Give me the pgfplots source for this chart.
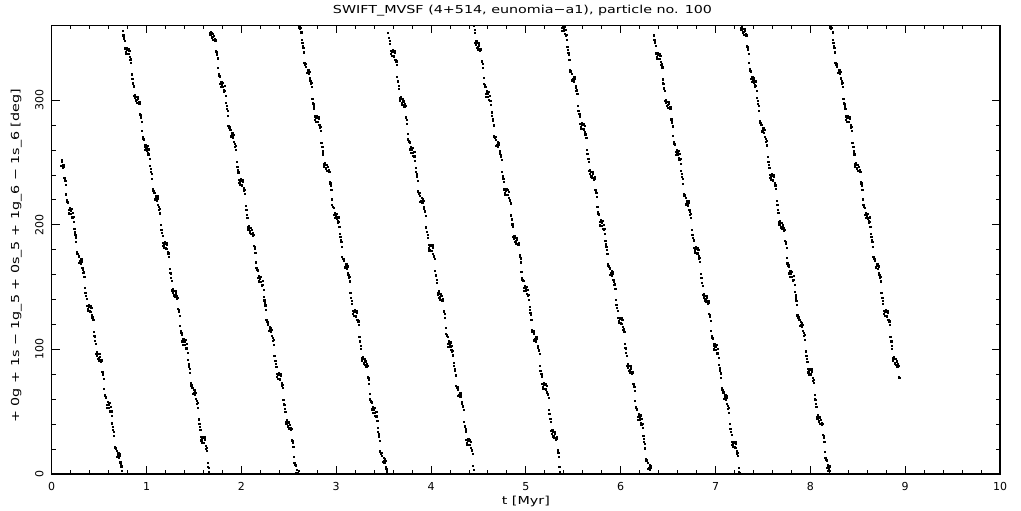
\documentclass[border=0pt]{standalone}
\usepackage{fontspec}
\setmainfont{DejaVu Sans}
\newfontfamily\labfont[FakeStretch=1.3]{DejaVu Sans}
\usepackage{pgfplots}
\pgfplotsset{compat=1.18}
\pgfplotsset{dots/.style={only marks, mark=square*, mark size=0.6pt, black, mark options={line width=0pt}}}

\begin{document}
\begin{tikzpicture}
\useasboundingbox (-51.7pt,-37pt) rectangle (969.3pt,474pt);
\begin{axis}[
  at={(0pt,0pt)}, anchor=south west,
  scale only axis, width=948.3pt, height=448.5pt,
  xmin=0, xmax=10, ymin=0, ymax=360,
  xtick={0,1,2,3,4,5,6,7,8,9,10}, ytick={0,100,200,300},
  minor x tick num=4, minor y tick num=4,
  tick align=inside,
  major tick length=8pt, minor tick length=4pt,
  tick style={black, line width=0.9pt},
  axis line style={line width=1.1pt},
  tick label style={font=\fontsize{11}{13}\selectfont},
  /pgf/number format/assume math mode=true,
  xticklabel shift=5pt,
  yticklabel style={rotate=90, anchor=south},
  yticklabel shift=4.7pt,
  title={SWIFT\_MVSF (4+514, eunomia−a1), particle no. 100},
  title style={at={(axis description cs:0.4965,1.0189)}, anchor=center, font=\fontsize{11}{13}\labfont},
  xlabel={t [Myr]},
  xlabel style={at={(axis description cs:0.5,-0.0613)}, anchor=center, font=\fontsize{11}{13}\labfont},
  ylabel={+ 0g + 1s − 1g\_5 + 0s\_5 + 1g\_6 − 1s\_6 [deg]},
  ylabel style={at={(axis description cs:-0.0373,0.4865)}, anchor=center, font=\fontsize{11}{13}\labfont},
]
% ---- outputs on the 0.01 Myr grid ----
% cycle 0
\addplot[dots] coordinates {
(0.10,247.1) (0.11,250.2) (0.12,246.0) (0.13,246.6) (0.14,237.0) (0.15,232.1) (0.16,219.7) (0.17,218.1) (0.18,211.7) (0.19,213.5)
(0.20,211.1) (0.21,212.7) (0.22,205.5) (0.23,206.1) (0.24,196.5) (0.25,191.6) (0.26,186.2) (0.27,176.6) (0.28,176.7) (0.29,169.5)
(0.30,170.6) (0.31,168.7) (0.32,170.5) (0.33,163.6) (0.34,162.0) (0.35,149.1) (0.36,145.2) (0.37,140.6) (0.38,132.2) (0.39,134.0)
(0.40,134.1) (0.41,130.2) (0.42,133.0) (0.43,125.6) (0.44,123.5) (0.45,110.6) (0.46,106.7) (0.47,96.6) (0.48,97.7) (0.49,92.5)
(0.50,91.1) (0.51,94.2) (0.52,90.0) (0.53,90.6) (0.54,81.0) (0.55,76.1) (0.56,63.7) (0.57,62.1) (0.58,55.7) (0.59,57.5)
(0.60,55.1) (0.61,56.7) (0.62,49.5) (0.63,50.1) (0.64,40.5) (0.65,35.6) (0.66,30.2) (0.67,20.6) (0.68,20.7) (0.69,13.5)
(0.70,14.6) (0.71,12.7) (0.72,14.5) (0.73,7.6) (0.74,6.0)
};
% cycle 1
\addplot[dots] coordinates {
(0.75,355.8) (0.76,351.9) (0.77,347.3) (0.78,338.9) (0.79,340.7)
(0.80,340.8) (0.81,336.9) (0.82,339.7) (0.83,332.3) (0.84,330.2) (0.85,317.3) (0.86,313.4) (0.87,303.3) (0.88,304.4) (0.89,299.2)
(0.90,297.8) (0.91,300.9) (0.92,296.7) (0.93,297.3) (0.94,287.7) (0.95,282.8) (0.96,270.4) (0.97,268.8) (0.98,262.4) (0.99,264.2)
(1.00,261.8) (1.01,263.4) (1.02,256.2) (1.03,256.8) (1.04,247.2) (1.05,242.3) (1.06,236.9) (1.07,227.3) (1.08,227.4) (1.09,220.2)
(1.10,221.3) (1.11,219.4) (1.12,221.2) (1.13,214.3) (1.14,212.7) (1.15,199.8) (1.16,195.9) (1.17,191.3) (1.18,182.9) (1.19,184.7)
(1.20,184.8) (1.21,180.9) (1.22,183.7) (1.23,176.3) (1.24,174.2) (1.25,161.3) (1.26,157.4) (1.27,147.3) (1.28,148.4) (1.29,143.2)
(1.30,141.8) (1.31,144.9) (1.32,140.7) (1.33,141.3) (1.34,131.7) (1.35,126.8) (1.36,114.4) (1.37,112.8) (1.38,106.4) (1.39,108.2)
(1.40,105.8) (1.41,107.4) (1.42,100.2) (1.43,100.8) (1.44,91.2) (1.45,86.3) (1.46,80.9) (1.47,71.3) (1.48,71.4) (1.49,64.2)
(1.50,65.3) (1.51,63.4) (1.52,65.2) (1.53,58.3) (1.54,56.7) (1.55,43.8) (1.56,39.9) (1.57,35.3) (1.58,26.9) (1.59,28.7)
(1.60,28.8) (1.61,24.9) (1.62,27.7) (1.63,20.3) (1.64,18.2) (1.65,5.3) (1.66,1.4)
};
% cycle 2
\addplot[dots] coordinates {
(1.67,354.0) (1.68,355.1) (1.69,349.9)
(1.70,348.5) (1.71,351.6) (1.72,347.4) (1.73,348.0) (1.74,338.4) (1.75,333.5) (1.76,321.1) (1.77,319.5) (1.78,313.1) (1.79,314.9)
(1.80,312.5) (1.81,314.1) (1.82,306.9) (1.83,307.5) (1.84,297.9) (1.85,293.0) (1.86,287.6) (1.87,278.0) (1.88,278.1) (1.89,270.9)
(1.90,272.0) (1.91,270.1) (1.92,271.9) (1.93,265.0) (1.94,263.4) (1.95,250.5) (1.96,246.6) (1.97,242.0) (1.98,233.6) (1.99,235.4)
(2.00,235.5) (2.01,231.6) (2.02,234.4) (2.03,227.0) (2.04,224.9) (2.05,212.0) (2.06,208.1) (2.07,198.0) (2.08,199.1) (2.09,193.9)
(2.10,192.5) (2.11,195.6) (2.12,191.4) (2.13,192.0) (2.14,182.4) (2.15,177.5) (2.16,165.1) (2.17,163.5) (2.18,157.1) (2.19,158.9)
(2.20,156.5) (2.21,158.1) (2.22,150.9) (2.23,151.5) (2.24,141.9) (2.25,137.0) (2.26,131.6) (2.27,122.0) (2.28,122.1) (2.29,114.9)
(2.30,116.0) (2.31,114.1) (2.32,115.9) (2.33,109.0) (2.34,107.4) (2.35,94.5) (2.36,90.6) (2.37,86.0) (2.38,77.6) (2.39,79.4)
(2.40,79.5) (2.41,75.6) (2.42,78.4) (2.43,71.0) (2.44,68.9) (2.45,56.0) (2.46,52.1) (2.47,42.0) (2.48,43.1) (2.49,37.9)
(2.50,36.5) (2.51,39.6) (2.52,35.4) (2.53,36.0) (2.54,26.4) (2.55,21.5) (2.56,9.1) (2.57,7.5) (2.58,1.1) (2.59,2.9)
(2.60,0.5) (2.61,2.1)
};
% cycle 3
\addplot[dots] coordinates {
(2.62,357.6) (2.63,358.2) (2.64,348.6) (2.65,343.7) (2.66,338.3) (2.67,328.7) (2.68,328.8) (2.69,321.6)
(2.70,322.7) (2.71,320.8) (2.72,322.6) (2.73,315.7) (2.74,314.1) (2.75,301.2) (2.76,297.3) (2.77,292.7) (2.78,284.3) (2.79,286.1)
(2.80,286.2) (2.81,282.3) (2.82,285.1) (2.83,277.7) (2.84,275.6) (2.85,262.7) (2.86,258.8) (2.87,248.7) (2.88,249.8) (2.89,244.6)
(2.90,243.2) (2.91,246.3) (2.92,242.1) (2.93,242.7) (2.94,233.1) (2.95,228.2) (2.96,215.8) (2.97,214.2) (2.98,207.8) (2.99,209.6)
(3.00,207.2) (3.01,208.8) (3.02,201.6) (3.03,202.2) (3.04,192.6) (3.05,187.7) (3.06,182.3) (3.07,172.7) (3.08,172.8) (3.09,165.6)
(3.10,166.7) (3.11,164.8) (3.12,166.6) (3.13,159.7) (3.14,158.1) (3.15,145.2) (3.16,141.3) (3.17,136.7) (3.18,128.3) (3.19,130.1)
(3.20,130.2) (3.21,126.3) (3.22,129.1) (3.23,121.7) (3.24,119.6) (3.25,106.7) (3.26,102.8) (3.27,92.7) (3.28,93.8) (3.29,88.6)
(3.30,87.2) (3.31,90.3) (3.32,86.1) (3.33,86.7) (3.34,77.1) (3.35,72.2) (3.36,59.8) (3.37,58.2) (3.38,51.8) (3.39,53.6)
(3.40,51.2) (3.41,52.8) (3.42,45.6) (3.43,46.2) (3.44,36.6) (3.45,31.7) (3.46,26.3) (3.47,16.7) (3.48,16.8) (3.49,9.6)
(3.50,10.7) (3.51,8.8) (3.52,10.6) (3.53,3.7) (3.54,2.1)
};
% cycle 4
\addplot[dots] coordinates {
(3.55,353.9) (3.56,350.0) (3.57,345.4) (3.58,337.0) (3.59,338.8)
(3.60,338.9) (3.61,335.0) (3.62,337.8) (3.63,330.4) (3.64,328.3) (3.65,315.4) (3.66,311.5) (3.67,301.4) (3.68,302.5) (3.69,297.3)
(3.70,295.9) (3.71,299.0) (3.72,294.8) (3.73,295.4) (3.74,285.8) (3.75,280.9) (3.76,268.5) (3.77,266.9) (3.78,260.5) (3.79,262.3)
(3.80,259.9) (3.81,261.5) (3.82,254.3) (3.83,254.9) (3.84,245.3) (3.85,240.4) (3.86,235.0) (3.87,225.4) (3.88,225.5) (3.89,218.3)
(3.90,219.4) (3.91,217.5) (3.92,219.3) (3.93,212.4) (3.94,210.8) (3.95,197.9) (3.96,194.0) (3.97,189.4) (3.98,181.0) (3.99,182.8)
(4.00,182.9) (4.01,179.0) (4.02,181.8) (4.03,174.4) (4.04,172.3) (4.05,159.4) (4.06,155.5) (4.07,145.4) (4.08,146.5) (4.09,141.3)
(4.10,139.9) (4.11,143.0) (4.12,138.8) (4.13,139.4) (4.14,129.8) (4.15,124.9) (4.16,112.5) (4.17,110.9) (4.18,104.5) (4.19,106.3)
(4.20,103.9) (4.21,105.5) (4.22,98.3) (4.23,98.9) (4.24,89.3) (4.25,84.4) (4.26,79.0) (4.27,69.4) (4.28,69.5) (4.29,62.3)
(4.30,63.4) (4.31,61.5) (4.32,63.3) (4.33,56.4) (4.34,54.8) (4.35,41.9) (4.36,38.0) (4.37,33.4) (4.38,25.0) (4.39,26.8)
(4.40,26.9) (4.41,23.0) (4.42,25.8) (4.43,18.4) (4.44,16.3) (4.45,3.4)
};
% cycle 5
\addplot[dots] coordinates {
(4.46,356.3) (4.47,346.2) (4.48,347.3) (4.49,342.1)
(4.50,340.7) (4.51,343.8) (4.52,339.6) (4.53,340.2) (4.54,330.6) (4.55,325.7) (4.56,313.3) (4.57,311.7) (4.58,305.3) (4.59,307.1)
(4.60,304.7) (4.61,306.3) (4.62,299.1) (4.63,299.7) (4.64,290.1) (4.65,285.2) (4.66,279.8) (4.67,270.2) (4.68,270.3) (4.69,263.1)
(4.70,264.2) (4.71,262.3) (4.72,264.1) (4.73,257.2) (4.74,255.6) (4.75,242.7) (4.76,238.8) (4.77,234.2) (4.78,225.8) (4.79,227.6)
(4.80,227.7) (4.81,223.8) (4.82,226.6) (4.83,219.2) (4.84,217.1) (4.85,204.2) (4.86,200.3) (4.87,190.2) (4.88,191.3) (4.89,186.1)
(4.90,184.7) (4.91,187.8) (4.92,183.6) (4.93,184.2) (4.94,174.6) (4.95,169.7) (4.96,157.3) (4.97,155.7) (4.98,149.3) (4.99,151.1)
(5.00,148.7) (5.01,150.3) (5.02,143.1) (5.03,143.7) (5.04,134.1) (5.05,129.2) (5.06,123.8) (5.07,114.2) (5.08,114.3) (5.09,107.1)
(5.10,108.2) (5.11,106.3) (5.12,108.1) (5.13,101.2) (5.14,99.6) (5.15,86.7) (5.16,82.8) (5.17,78.2) (5.18,69.8) (5.19,71.6)
(5.20,71.7) (5.21,67.8) (5.22,70.6) (5.23,63.2) (5.24,61.1) (5.25,48.2) (5.26,44.3) (5.27,34.2) (5.28,35.3) (5.29,30.1)
(5.30,28.7) (5.31,31.8) (5.32,27.6) (5.33,28.2) (5.34,18.6) (5.35,13.7) (5.36,1.3)
};
% cycle 6
\addplot[dots] coordinates {
(5.38,358.0) (5.39,359.8)
(5.40,357.4) (5.41,359.0) (5.42,351.8) (5.43,352.4) (5.44,342.8) (5.45,337.9) (5.46,332.5) (5.47,322.9) (5.48,323.0) (5.49,315.8)
(5.50,316.9) (5.51,315.0) (5.52,316.8) (5.53,309.9) (5.54,308.3) (5.55,295.4) (5.56,291.5) (5.57,286.9) (5.58,278.5) (5.59,280.3)
(5.60,280.4) (5.61,276.5) (5.62,279.3) (5.63,271.9) (5.64,269.8) (5.65,256.9) (5.66,253.0) (5.67,242.9) (5.68,244.0) (5.69,238.8)
(5.70,237.4) (5.71,240.5) (5.72,236.3) (5.73,236.9) (5.74,227.3) (5.75,222.4) (5.76,210.0) (5.77,208.4) (5.78,202.0) (5.79,203.8)
(5.80,201.4) (5.81,203.0) (5.82,195.8) (5.83,196.4) (5.84,186.8) (5.85,181.9) (5.86,176.5) (5.87,166.9) (5.88,167.0) (5.89,159.8)
(5.90,160.9) (5.91,159.0) (5.92,160.8) (5.93,153.9) (5.94,152.3) (5.95,139.4) (5.96,135.5) (5.97,130.9) (5.98,122.5) (5.99,124.3)
(6.00,124.4) (6.01,120.5) (6.02,123.3) (6.03,115.9) (6.04,113.8) (6.05,100.9) (6.06,97.0) (6.07,86.9) (6.08,88.0) (6.09,82.8)
(6.10,81.4) (6.11,84.5) (6.12,80.3) (6.13,80.9) (6.14,71.3) (6.15,66.4) (6.16,54.0) (6.17,52.4) (6.18,46.0) (6.19,47.8)
(6.20,45.4) (6.21,47.0) (6.22,39.8) (6.23,40.4) (6.24,30.8) (6.25,25.9) (6.26,20.5) (6.27,10.9) (6.28,11.0) (6.29,3.8)
(6.30,4.9) (6.31,3.0) (6.32,4.8)
};
% cycle 7
\addplot[dots] coordinates {
(6.35,351.9) (6.36,348.0) (6.37,343.4) (6.38,335.0) (6.39,336.8)
(6.40,336.9) (6.41,333.0) (6.42,335.8) (6.43,328.4) (6.44,326.3) (6.45,313.4) (6.46,309.5) (6.47,299.4) (6.48,300.5) (6.49,295.3)
(6.50,293.9) (6.51,297.0) (6.52,292.8) (6.53,293.4) (6.54,283.8) (6.55,278.9) (6.56,266.5) (6.57,264.9) (6.58,258.5) (6.59,260.3)
(6.60,257.9) (6.61,259.5) (6.62,252.3) (6.63,252.9) (6.64,243.3) (6.65,238.4) (6.66,233.0) (6.67,223.4) (6.68,223.5) (6.69,216.3)
(6.70,217.4) (6.71,215.5) (6.72,217.3) (6.73,210.4) (6.74,208.8) (6.75,195.9) (6.76,192.0) (6.77,187.4) (6.78,179.0) (6.79,180.8)
(6.80,180.9) (6.81,177.0) (6.82,179.8) (6.83,172.4) (6.84,170.3) (6.85,157.4) (6.86,153.5) (6.87,143.4) (6.88,144.5) (6.89,139.3)
(6.90,137.9) (6.91,141.0) (6.92,136.8) (6.93,137.4) (6.94,127.8) (6.95,122.9) (6.96,110.5) (6.97,108.9) (6.98,102.5) (6.99,104.3)
(7.00,101.9) (7.01,103.5) (7.02,96.3) (7.03,96.9) (7.04,87.3) (7.05,82.4) (7.06,77.0) (7.07,67.4) (7.08,67.5) (7.09,60.3)
(7.10,61.4) (7.11,59.5) (7.12,61.3) (7.13,54.4) (7.14,52.8) (7.15,39.9) (7.16,36.0) (7.17,31.4) (7.18,23.0) (7.19,24.8)
(7.20,24.9) (7.21,21.0) (7.22,23.8) (7.23,16.4) (7.24,14.3) (7.25,1.4)
};
% cycle 8
\addplot[dots] coordinates {
(7.27,357.9) (7.28,359.0) (7.29,353.8)
(7.30,352.4) (7.31,355.5) (7.32,351.3) (7.33,351.9) (7.34,342.3) (7.35,337.4) (7.36,325.0) (7.37,323.4) (7.38,317.0) (7.39,318.8)
(7.40,316.4) (7.41,318.0) (7.42,310.8) (7.43,311.4) (7.44,301.8) (7.45,296.9) (7.46,291.5) (7.47,281.9) (7.48,282.0) (7.49,274.8)
(7.50,275.9) (7.51,274.0) (7.52,275.8) (7.53,268.9) (7.54,267.3) (7.55,254.4) (7.56,250.5) (7.57,245.9) (7.58,237.5) (7.59,239.3)
(7.60,239.4) (7.61,235.5) (7.62,238.3) (7.63,230.9) (7.64,228.8) (7.65,215.9) (7.66,212.0) (7.67,201.9) (7.68,203.0) (7.69,197.8)
(7.70,196.4) (7.71,199.5) (7.72,195.3) (7.73,195.9) (7.74,186.3) (7.75,181.4) (7.76,169.0) (7.77,167.4) (7.78,161.0) (7.79,162.8)
(7.80,160.4) (7.81,162.0) (7.82,154.8) (7.83,155.4) (7.84,145.8) (7.85,140.9) (7.86,135.5) (7.87,125.9) (7.88,126.0) (7.89,118.8)
(7.90,119.9) (7.91,118.0) (7.92,119.8) (7.93,112.9) (7.94,111.3) (7.95,98.4) (7.96,94.5) (7.97,89.9) (7.98,81.5) (7.99,83.3)
(8.00,83.4) (8.01,79.5) (8.02,82.3) (8.03,74.9) (8.04,72.8) (8.05,59.9) (8.06,56.0) (8.07,45.9) (8.08,47.0) (8.09,41.8)
(8.10,40.4) (8.11,43.5) (8.12,39.3) (8.13,39.9) (8.14,30.3) (8.15,25.4) (8.16,13.0) (8.17,11.4) (8.18,5.0) (8.19,6.8)
(8.20,4.4) (8.21,6.0)
};
% cycle 9
\addplot[dots] coordinates {
(8.22,357.6) (8.23,358.2) (8.24,348.6) (8.25,343.7) (8.26,338.3) (8.27,328.7) (8.28,328.8) (8.29,321.6)
(8.30,322.7) (8.31,320.8) (8.32,322.6) (8.33,315.7) (8.34,314.1) (8.35,301.2) (8.36,297.3) (8.37,292.7) (8.38,284.3) (8.39,286.1)
(8.40,286.2) (8.41,282.3) (8.42,285.1) (8.43,277.7) (8.44,275.6) (8.45,262.7) (8.46,258.8) (8.47,248.7) (8.48,249.8) (8.49,244.6)
(8.50,243.2) (8.51,246.3) (8.52,242.1) (8.53,242.7) (8.54,233.1) (8.55,228.2) (8.56,215.8) (8.57,214.2) (8.58,207.8) (8.59,209.6)
(8.60,207.2) (8.61,208.8) (8.62,201.6) (8.63,202.2) (8.64,192.6) (8.65,187.7) (8.66,182.3) (8.67,172.7) (8.68,172.8) (8.69,165.6)
(8.70,166.7) (8.71,164.8) (8.72,166.6) (8.73,159.7) (8.74,158.1) (8.75,145.2) (8.76,141.3) (8.77,136.7) (8.78,128.3) (8.79,130.1)
(8.80,130.2) (8.81,126.3) (8.82,129.1) (8.83,121.7) (8.84,119.6) (8.85,106.7) (8.86,102.8) (8.87,92.7) (8.88,93.8) (8.89,88.6)
(8.90,87.2) (8.91,90.3) (8.92,86.1) (8.93,86.7) (8.94,77.1)
};
% ---- outputs in between ----
% cycle 0
\addplot[dots] coordinates {
(0.105,252.0) (0.115,247.1) (0.125,247.8) (0.135,237.8) (0.145,235.4) (0.155,224.3) (0.165,218.4) (0.175,217.3) (0.185,209.1) (0.195,211.7)
(0.205,209.0) (0.215,206.6) (0.225,209.8) (0.235,202.3) (0.245,193.9) (0.255,189.8) (0.265,177.9) (0.275,176.3) (0.285,174.6) (0.295,169.7)
(0.305,172.5) (0.315,172.1) (0.325,165.3) (0.335,161.3) (0.345,158.4) (0.355,145.3) (0.365,142.9) (0.375,134.8) (0.385,130.6) (0.395,135.2)
(0.405,130.5) (0.415,134.6) (0.425,127.8) (0.435,126.3) (0.445,113.9) (0.455,110.3) (0.465,104.4) (0.475,94.8) (0.485,96.1) (0.495,93.2)
(0.505,96.0) (0.515,91.1) (0.525,91.8) (0.535,81.8) (0.545,79.4) (0.555,68.3) (0.565,62.4) (0.575,61.3) (0.585,53.1) (0.595,55.7)
(0.605,53.0) (0.615,50.6) (0.625,53.8) (0.635,46.3) (0.645,37.9) (0.655,33.8) (0.665,21.9) (0.675,20.3) (0.685,18.6) (0.695,13.7)
(0.705,16.5) (0.715,16.1) (0.725,9.3) (0.735,5.3) (0.745,2.4)
};
% cycle 1
\addplot[dots] coordinates {
(0.755,352.0) (0.765,349.6) (0.775,341.5) (0.785,337.3) (0.795,341.9)
(0.805,337.2) (0.815,341.3) (0.825,334.5) (0.835,333.0) (0.845,320.6) (0.855,317.0) (0.865,311.1) (0.875,301.5) (0.885,302.8) (0.895,299.9)
(0.905,302.7) (0.915,297.8) (0.925,298.5) (0.935,288.5) (0.945,286.1) (0.955,275.0) (0.965,269.1) (0.975,268.0) (0.985,259.8) (0.995,262.4)
(1.005,259.7) (1.015,257.3) (1.025,260.5) (1.035,253.0) (1.045,244.6) (1.055,240.5) (1.065,228.6) (1.075,227.0) (1.085,225.3) (1.095,220.4)
(1.105,223.2) (1.115,222.8) (1.125,216.0) (1.135,212.0) (1.145,209.1) (1.155,196.0) (1.165,193.6) (1.175,185.5) (1.185,181.3) (1.195,185.9)
(1.205,181.2) (1.215,185.3) (1.225,178.5) (1.235,177.0) (1.245,164.6) (1.255,161.0) (1.265,155.1) (1.275,145.5) (1.285,146.8) (1.295,143.9)
(1.305,146.7) (1.315,141.8) (1.325,142.5) (1.335,132.5) (1.345,130.1) (1.355,119.0) (1.365,113.1) (1.375,112.0) (1.385,103.8) (1.395,106.4)
(1.405,103.7) (1.415,101.3) (1.425,104.5) (1.435,97.0) (1.445,88.6) (1.455,84.5) (1.465,72.6) (1.475,71.0) (1.485,69.3) (1.495,64.4)
(1.505,67.2) (1.515,66.8) (1.525,60.0) (1.535,56.0) (1.545,53.1) (1.555,40.0) (1.565,37.6) (1.575,29.5) (1.585,25.3) (1.595,29.9)
(1.605,25.2) (1.615,29.3) (1.625,22.5) (1.635,21.0) (1.645,8.6) (1.655,5.0)
};
% cycle 2
\addplot[dots] coordinates {
(1.675,352.2) (1.685,353.5) (1.695,350.6)
(1.705,353.4) (1.715,348.5) (1.725,349.2) (1.735,339.2) (1.745,336.8) (1.755,325.7) (1.765,319.8) (1.775,318.7) (1.785,310.5) (1.795,313.1)
(1.805,310.4) (1.815,308.0) (1.825,311.2) (1.835,303.7) (1.845,295.3) (1.855,291.2) (1.865,279.3) (1.875,277.7) (1.885,276.0) (1.895,271.1)
(1.905,273.9) (1.915,273.5) (1.925,266.7) (1.935,262.7) (1.945,259.8) (1.955,246.7) (1.965,244.3) (1.975,236.2) (1.985,232.0) (1.995,236.6)
(2.005,231.9) (2.015,236.0) (2.025,229.2) (2.035,227.7) (2.045,215.3) (2.055,211.7) (2.065,205.8) (2.075,196.2) (2.085,197.5) (2.095,194.6)
(2.105,197.4) (2.115,192.5) (2.125,193.2) (2.135,183.2) (2.145,180.8) (2.155,169.7) (2.165,163.8) (2.175,162.7) (2.185,154.5) (2.195,157.1)
(2.205,154.4) (2.215,152.0) (2.225,155.2) (2.235,147.7) (2.245,139.3) (2.255,135.2) (2.265,123.3) (2.275,121.7) (2.285,120.0) (2.295,115.1)
(2.305,117.9) (2.315,117.5) (2.325,110.7) (2.335,106.7) (2.345,103.8) (2.355,90.7) (2.365,88.3) (2.375,80.2) (2.385,76.0) (2.395,80.6)
(2.405,75.9) (2.415,80.0) (2.425,73.2) (2.435,71.7) (2.445,59.3) (2.455,55.7) (2.465,49.8) (2.475,40.2) (2.485,41.5) (2.495,38.6)
(2.505,41.4) (2.515,36.5) (2.525,37.2) (2.535,27.2) (2.545,24.8) (2.555,13.7) (2.565,7.8) (2.575,6.7) (2.595,1.1)
};
% cycle 3
\addplot[dots] coordinates {
(2.615,358.7) (2.635,354.4) (2.645,346.0) (2.655,341.9) (2.665,330.0) (2.675,328.4) (2.685,326.7) (2.695,321.8)
(2.705,324.6) (2.715,324.2) (2.725,317.4) (2.735,313.4) (2.745,310.5) (2.755,297.4) (2.765,295.0) (2.775,286.9) (2.785,282.7) (2.795,287.3)
(2.805,282.6) (2.815,286.7) (2.825,279.9) (2.835,278.4) (2.845,266.0) (2.855,262.4) (2.865,256.5) (2.875,246.9) (2.885,248.2) (2.895,245.3)
(2.905,248.1) (2.915,243.2) (2.925,243.9) (2.935,233.9) (2.945,231.5) (2.955,220.4) (2.965,214.5) (2.975,213.4) (2.985,205.2) (2.995,207.8)
(3.005,205.1) (3.015,202.7) (3.025,205.9) (3.035,198.4) (3.045,190.0) (3.055,185.9) (3.065,174.0) (3.075,172.4) (3.085,170.7) (3.095,165.8)
(3.105,168.6) (3.115,168.2) (3.125,161.4) (3.135,157.4) (3.145,154.5) (3.155,141.4) (3.165,139.0) (3.175,130.9) (3.185,126.7) (3.195,131.3)
(3.205,126.6) (3.215,130.7) (3.225,123.9) (3.235,122.4) (3.245,110.0) (3.255,106.4) (3.265,100.5) (3.275,90.9) (3.285,92.2) (3.295,89.3)
(3.305,92.1) (3.315,87.2) (3.325,87.9) (3.335,77.9) (3.345,75.5) (3.355,64.4) (3.365,58.5) (3.375,57.4) (3.385,49.2) (3.395,51.8)
(3.405,49.1) (3.415,46.7) (3.425,49.9) (3.435,42.4) (3.445,34.0) (3.455,29.9) (3.465,18.0) (3.475,16.4) (3.485,14.7) (3.495,9.8)
(3.505,12.6) (3.515,12.2) (3.525,5.4) (3.535,1.4)
};
% cycle 4
\addplot[dots] coordinates {
(3.555,350.1) (3.565,347.7) (3.575,339.6) (3.585,335.4) (3.595,340.0)
(3.605,335.3) (3.615,339.4) (3.625,332.6) (3.635,331.1) (3.645,318.7) (3.655,315.1) (3.665,309.2) (3.675,299.6) (3.685,300.9) (3.695,298.0)
(3.705,300.8) (3.715,295.9) (3.725,296.6) (3.735,286.6) (3.745,284.2) (3.755,273.1) (3.765,267.2) (3.775,266.1) (3.785,257.9) (3.795,260.5)
(3.805,257.8) (3.815,255.4) (3.825,258.6) (3.835,251.1) (3.845,242.7) (3.855,238.6) (3.865,226.7) (3.875,225.1) (3.885,223.4) (3.895,218.5)
(3.905,221.3) (3.915,220.9) (3.925,214.1) (3.935,210.1) (3.945,207.2) (3.955,194.1) (3.965,191.7) (3.975,183.6) (3.985,179.4) (3.995,184.0)
(4.005,179.3) (4.015,183.4) (4.025,176.6) (4.035,175.1) (4.045,162.7) (4.055,159.1) (4.065,153.2) (4.075,143.6) (4.085,144.9) (4.095,142.0)
(4.105,144.8) (4.115,139.9) (4.125,140.6) (4.135,130.6) (4.145,128.2) (4.155,117.1) (4.165,111.2) (4.175,110.1) (4.185,101.9) (4.195,104.5)
(4.205,101.8) (4.215,99.4) (4.225,102.6) (4.235,95.1) (4.245,86.7) (4.255,82.6) (4.265,70.7) (4.275,69.1) (4.285,67.4) (4.295,62.5)
(4.305,65.3) (4.315,64.9) (4.325,58.1) (4.335,54.1) (4.345,51.2) (4.355,38.1) (4.365,35.7) (4.375,27.6) (4.385,23.4) (4.395,28.0)
(4.405,23.3) (4.415,27.4) (4.425,20.6) (4.435,19.1) (4.445,6.7) (4.455,3.1)
};
% cycle 5
\addplot[dots] coordinates {
(4.455,359.9) (4.465,354.0) (4.475,344.4) (4.485,345.7) (4.495,342.8)
(4.505,345.6) (4.515,340.7) (4.525,341.4) (4.535,331.4) (4.545,329.0) (4.555,317.9) (4.565,312.0) (4.575,310.9) (4.585,302.7) (4.595,305.3)
(4.605,302.6) (4.615,300.2) (4.625,303.4) (4.635,295.9) (4.645,287.5) (4.655,283.4) (4.665,271.5) (4.675,269.9) (4.685,268.2) (4.695,263.3)
(4.705,266.1) (4.715,265.7) (4.725,258.9) (4.735,254.9) (4.745,252.0) (4.755,238.9) (4.765,236.5) (4.775,228.4) (4.785,224.2) (4.795,228.8)
(4.805,224.1) (4.815,228.2) (4.825,221.4) (4.835,219.9) (4.845,207.5) (4.855,203.9) (4.865,198.0) (4.875,188.4) (4.885,189.7) (4.895,186.8)
(4.905,189.6) (4.915,184.7) (4.925,185.4) (4.935,175.4) (4.945,173.0) (4.955,161.9) (4.965,156.0) (4.975,154.9) (4.985,146.7) (4.995,149.3)
(5.005,146.6) (5.015,144.2) (5.025,147.4) (5.035,139.9) (5.045,131.5) (5.055,127.4) (5.065,115.5) (5.075,113.9) (5.085,112.2) (5.095,107.3)
(5.105,110.1) (5.115,109.7) (5.125,102.9) (5.135,98.9) (5.145,96.0) (5.155,82.9) (5.165,80.5) (5.175,72.4) (5.185,68.2) (5.195,72.8)
(5.205,68.1) (5.215,72.2) (5.225,65.4) (5.235,63.9) (5.245,51.5) (5.255,47.9) (5.265,42.0) (5.275,32.4) (5.285,33.7) (5.295,30.8)
(5.305,33.6) (5.315,28.7) (5.325,29.4) (5.335,19.4) (5.345,17.0) (5.355,5.9)
};
% cycle 6
\addplot[dots] coordinates {
(5.385,355.4) (5.395,358.0)
(5.405,355.3) (5.415,352.9) (5.425,356.1) (5.435,348.6) (5.445,340.2) (5.455,336.1) (5.465,324.2) (5.475,322.6) (5.485,320.9) (5.495,316.0)
(5.505,318.8) (5.515,318.4) (5.525,311.6) (5.535,307.6) (5.545,304.7) (5.555,291.6) (5.565,289.2) (5.575,281.1) (5.585,276.9) (5.595,281.5)
(5.605,276.8) (5.615,280.9) (5.625,274.1) (5.635,272.6) (5.645,260.2) (5.655,256.6) (5.665,250.7) (5.675,241.1) (5.685,242.4) (5.695,239.5)
(5.705,242.3) (5.715,237.4) (5.725,238.1) (5.735,228.1) (5.745,225.7) (5.755,214.6) (5.765,208.7) (5.775,207.6) (5.785,199.4) (5.795,202.0)
(5.805,199.3) (5.815,196.9) (5.825,200.1) (5.835,192.6) (5.845,184.2) (5.855,180.1) (5.865,168.2) (5.875,166.6) (5.885,164.9) (5.895,160.0)
(5.905,162.8) (5.915,162.4) (5.925,155.6) (5.935,151.6) (5.945,148.7) (5.955,135.6) (5.965,133.2) (5.975,125.1) (5.985,120.9) (5.995,125.5)
(6.005,120.8) (6.015,124.9) (6.025,118.1) (6.035,116.6) (6.045,104.2) (6.055,100.6) (6.065,94.7) (6.075,85.1) (6.085,86.4) (6.095,83.5)
(6.105,86.3) (6.115,81.4) (6.125,82.1) (6.135,72.1) (6.145,69.7) (6.155,58.6) (6.165,52.7) (6.175,51.6) (6.185,43.4) (6.195,46.0)
(6.205,43.3) (6.215,40.9) (6.225,44.1) (6.235,36.6) (6.245,28.2) (6.255,24.1) (6.265,12.2) (6.275,10.6) (6.285,8.9) (6.295,4.0)
(6.305,6.8) (6.315,6.4)
};
% cycle 7
\addplot[dots] coordinates {
(6.355,348.1) (6.365,345.7) (6.375,337.6) (6.385,333.4) (6.395,338.0)
(6.405,333.3) (6.415,337.4) (6.425,330.6) (6.435,329.1) (6.445,316.7) (6.455,313.1) (6.465,307.2) (6.475,297.6) (6.485,298.9) (6.495,296.0)
(6.505,298.8) (6.515,293.9) (6.525,294.6) (6.535,284.6) (6.545,282.2) (6.555,271.1) (6.565,265.2) (6.575,264.1) (6.585,255.9) (6.595,258.5)
(6.605,255.8) (6.615,253.4) (6.625,256.6) (6.635,249.1) (6.645,240.7) (6.655,236.6) (6.665,224.7) (6.675,223.1) (6.685,221.4) (6.695,216.5)
(6.705,219.3) (6.715,218.9) (6.725,212.1) (6.735,208.1) (6.745,205.2) (6.755,192.1) (6.765,189.7) (6.775,181.6) (6.785,177.4) (6.795,182.0)
(6.805,177.3) (6.815,181.4) (6.825,174.6) (6.835,173.1) (6.845,160.7) (6.855,157.1) (6.865,151.2) (6.875,141.6) (6.885,142.9) (6.895,140.0)
(6.905,142.8) (6.915,137.9) (6.925,138.6) (6.935,128.6) (6.945,126.2) (6.955,115.1) (6.965,109.2) (6.975,108.1) (6.985,99.9) (6.995,102.5)
(7.005,99.8) (7.015,97.4) (7.025,100.6) (7.035,93.1) (7.045,84.7) (7.055,80.6) (7.065,68.7) (7.075,67.1) (7.085,65.4) (7.095,60.5)
(7.105,63.3) (7.115,62.9) (7.125,56.1) (7.135,52.1) (7.145,49.2) (7.155,36.1) (7.165,33.7) (7.175,25.6) (7.185,21.4) (7.195,26.0)
(7.205,21.3) (7.215,25.4) (7.225,18.6) (7.235,17.1) (7.245,4.7) (7.255,1.1)
};
% cycle 8
\addplot[dots] coordinates {
(7.275,356.1) (7.285,357.4) (7.295,354.5)
(7.305,357.3) (7.315,352.4) (7.325,353.1) (7.335,343.1) (7.345,340.7) (7.355,329.6) (7.365,323.7) (7.375,322.6) (7.385,314.4) (7.395,317.0)
(7.405,314.3) (7.415,311.9) (7.425,315.1) (7.435,307.6) (7.445,299.2) (7.455,295.1) (7.465,283.2) (7.475,281.6) (7.485,279.9) (7.495,275.0)
(7.505,277.8) (7.515,277.4) (7.525,270.6) (7.535,266.6) (7.545,263.7) (7.555,250.6) (7.565,248.2) (7.575,240.1) (7.585,235.9) (7.595,240.5)
(7.605,235.8) (7.615,239.9) (7.625,233.1) (7.635,231.6) (7.645,219.2) (7.655,215.6) (7.665,209.7) (7.675,200.1) (7.685,201.4) (7.695,198.5)
(7.705,201.3) (7.715,196.4) (7.725,197.1) (7.735,187.1) (7.745,184.7) (7.755,173.6) (7.765,167.7) (7.775,166.6) (7.785,158.4) (7.795,161.0)
(7.805,158.3) (7.815,155.9) (7.825,159.1) (7.835,151.6) (7.845,143.2) (7.855,139.1) (7.865,127.2) (7.875,125.6) (7.885,123.9) (7.895,119.0)
(7.905,121.8) (7.915,121.4) (7.925,114.6) (7.935,110.6) (7.945,107.7) (7.955,94.6) (7.965,92.2) (7.975,84.1) (7.985,79.9) (7.995,84.5)
(8.005,79.8) (8.015,83.9) (8.025,77.1) (8.035,75.6) (8.045,63.2) (8.055,59.6) (8.065,53.7) (8.075,44.1) (8.085,45.4) (8.095,42.5)
(8.105,45.3) (8.115,40.4) (8.125,41.1) (8.135,31.1) (8.145,28.7) (8.155,17.6) (8.165,11.7) (8.175,10.6) (8.185,2.4) (8.195,5.0)
(8.205,2.3)
};
% cycle 9
\addplot[dots] coordinates {
(8.215,358.7) (8.235,354.4) (8.245,346.0) (8.255,341.9) (8.265,330.0) (8.275,328.4) (8.285,326.7) (8.295,321.8)
(8.305,324.6) (8.315,324.2) (8.325,317.4) (8.335,313.4) (8.345,310.5) (8.355,297.4) (8.365,295.0) (8.375,286.9) (8.385,282.7) (8.395,287.3)
(8.405,282.6) (8.415,286.7) (8.425,279.9) (8.435,278.4) (8.445,266.0) (8.455,262.4) (8.465,256.5) (8.475,246.9) (8.485,248.2) (8.495,245.3)
(8.505,248.1) (8.515,243.2) (8.525,243.9) (8.535,233.9) (8.545,231.5) (8.555,220.4) (8.565,214.5) (8.575,213.4) (8.585,205.2) (8.595,207.8)
(8.605,205.1) (8.615,202.7) (8.625,205.9) (8.635,198.4) (8.645,190.0) (8.655,185.9) (8.665,174.0) (8.675,172.4) (8.685,170.7) (8.695,165.8)
(8.705,168.6) (8.715,168.2) (8.725,161.4) (8.735,157.4) (8.745,154.5) (8.755,141.4) (8.765,139.0) (8.775,130.9) (8.785,126.7) (8.795,131.3)
(8.805,126.6) (8.815,130.7) (8.825,123.9) (8.835,122.4) (8.845,110.0) (8.855,106.4) (8.865,100.5) (8.875,90.9) (8.885,92.2) (8.895,89.3)
(8.905,92.1) (8.915,87.2) (8.925,87.9) (8.935,77.9)
};
\end{axis}
\end{tikzpicture}
\end{document}
